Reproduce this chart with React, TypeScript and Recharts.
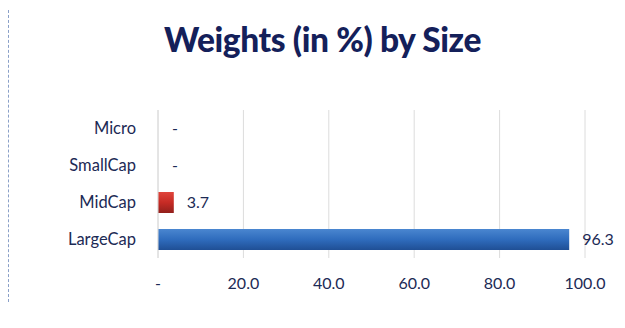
import { BarChart, Bar, XAxis, YAxis, CartesianGrid, Cell, LabelList } from 'recharts';

const sizes = ['Micro', 'SmallCap', 'MidCap', 'LargeCap'];
const weights = [0, 0, 3.7, 96.3];
const fills = ['transparent', 'transparent', 'url(#gRed)', 'url(#gBlue)'];
const xTicks = [0, 20, 40, 60, 80, 100];

const data = sizes.map((name, i) => ({ name, value: weights[i] }));

const fmt = (v: number) => (v === 0 ? '-' : v.toFixed(1));

const FONT = 'Lato, "Open Sans", sans-serif';
const NAVY = '#1c2a55';

export default function App() {
  return (
    <div style={{ position: 'absolute', left: 0, top: 0, width: 625, height: 328, background: '#fff', fontFamily: FONT }}>
      <div style={{ position: 'absolute', left: 8, top: 10, height: 292, borderLeft: '1px dashed #8aa0c8' }} />
      <div
        style={{
          position: 'absolute',
          left: 0,
          width: 645,
          top: 19,
          textAlign: 'center',
          fontSize: 33.5,
          fontWeight: 900,
          color: '#14205a',
          letterSpacing: -0.4,
        }}
      >
        Weights (in %) by Size
      </div>
      <BarChart
        width={625}
        height={328}
        data={data}
        layout="vertical"
        margin={{ top: 110, right: 40, bottom: 40, left: 0 }}
        barCategoryGap={8}
      >
        <defs>
          <linearGradient id="gBlue" x1="0" y1="0" x2="0" y2="1">
            <stop offset="0%" stopColor="#4a86d0" />
            <stop offset="50%" stopColor="#2f6cbd" />
            <stop offset="100%" stopColor="#1f4f95" />
          </linearGradient>
          <linearGradient id="gRed" x1="0" y1="0" x2="0" y2="1">
            <stop offset="0%" stopColor="#e0453c" />
            <stop offset="50%" stopColor="#c62b25" />
            <stop offset="100%" stopColor="#92201c" />
          </linearGradient>
        </defs>
        <CartesianGrid horizontal={false} stroke="#dcdcdc" />
        <XAxis
          type="number"
          domain={[0, 100]}
          ticks={xTicks}
          tickFormatter={fmt}
          axisLine={false}
          tickLine={false}
          height={30}
          tickMargin={14}
          tick={{ fontSize: 16, fill: NAVY, fontFamily: FONT }}
        />
        <YAxis
          type="category"
          dataKey="name"
          width={158}
          axisLine={{ stroke: '#dcdcdc' }}
          tickLine={false}
          tickMargin={16}
          tick={{ fontSize: 16.5, fill: NAVY, fontFamily: FONT }}
        />
        <Bar dataKey="value" barSize={21} minPointSize={1} isAnimationActive={false}>
          {data.map((d, i) => (
            <Cell key={d.name} fill={fills[i]} />
          ))}
          <LabelList
            dataKey="value"
            position="right"
            offset={13}
            formatter={fmt}
            style={{ fontSize: 16, fill: NAVY, fontFamily: FONT }}
          />
        </Bar>
      </BarChart>
    </div>
  );
}
